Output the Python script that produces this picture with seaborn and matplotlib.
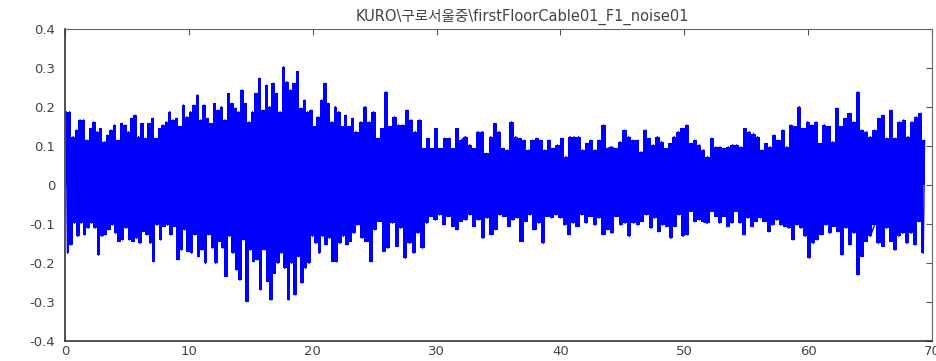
import matplotlib
matplotlib.use("Agg")
import matplotlib.pyplot as plt
import numpy as np
import pandas as pd
import seaborn as sns

# peak / trough readings of the waveform, three time segments each
upper_a = [0.188, 0.188, 0.124, 0.141, 0.167, 0.167, 0.115, 0.145, 0.162, 0.137,
           0.145, 0.111, 0.128, 0.141, 0.154, 0.115, 0.158, 0.154, 0.137, 0.171,
           0.179, 0.124, 0.158, 0.120, 0.158, 0.171, 0.120, 0.145, 0.154, 0.162,
           0.188, 0.167, 0.171, 0.150, 0.205, 0.175, 0.188, 0.205, 0.231, 0.167,
           0.205, 0.171, 0.158, 0.209, 0.192, 0.201, 0.167, 0.235, 0.209, 0.197,
           0.188, 0.244, 0.209, 0.162, 0.188, 0.235, 0.274, 0.192, 0.256, 0.201,
           0.261, 0.235, 0.188, 0.303, 0.265, 0.244, 0.261, 0.291, 0.197, 0.218,
           0.188, 0.192, 0.150, 0.175, 0.218, 0.261, 0.209, 0.162, 0.201, 0.188,
           0.150, 0.179, 0.150, 0.171, 0.137]
upper_b = [0.162, 0.201, 0.162, 0.188, 0.120, 0.145, 0.239, 0.150, 0.175, 0.154,
           0.154, 0.192, 0.167, 0.137, 0.167, 0.094, 0.120, 0.094, 0.145, 0.094,
           0.120, 0.120, 0.094, 0.145, 0.115, 0.124, 0.103, 0.094, 0.137, 0.137,
           0.081, 0.124, 0.158, 0.137, 0.094, 0.090, 0.162, 0.124, 0.120, 0.115,
           0.090, 0.115, 0.120, 0.115, 0.090, 0.115, 0.094, 0.103, 0.120, 0.073,
           0.124, 0.124, 0.124, 0.090, 0.107, 0.115, 0.090, 0.115, 0.154, 0.094,
           0.098, 0.094, 0.111, 0.141, 0.124, 0.115, 0.115, 0.085, 0.141, 0.120]
upper_c = [0.103, 0.124, 0.111, 0.094, 0.107, 0.124, 0.137, 0.145, 0.154, 0.107,
           0.115, 0.103, 0.090, 0.073, 0.120, 0.098, 0.098, 0.094, 0.098, 0.103,
           0.103, 0.098, 0.145, 0.137, 0.132, 0.124, 0.090, 0.107, 0.098, 0.128,
           0.115, 0.141, 0.098, 0.154, 0.150, 0.201, 0.145, 0.162, 0.154, 0.162,
           0.107, 0.154, 0.150, 0.111, 0.197, 0.150, 0.171, 0.184, 0.162, 0.239,
           0.141, 0.137, 0.124, 0.141, 0.171, 0.179, 0.120, 0.192, 0.120, 0.162,
           0.167, 0.124, 0.162, 0.175, 0.184, 0.115]

lower_a = [-0.175, -0.154, -0.098, -0.132, -0.098, -0.128, -0.111, -0.098, -0.111, -0.180,
           -0.132, -0.128, -0.115, -0.103, -0.124, -0.145, -0.141, -0.111, -0.141, -0.145,
           -0.137, -0.150, -0.120, -0.128, -0.150, -0.197, -0.103, -0.141, -0.107, -0.103,
           -0.128, -0.107, -0.192, -0.167, -0.115, -0.171, -0.175, -0.128, -0.184, -0.167,
           -0.201, -0.128, -0.162, -0.201, -0.145, -0.162, -0.235, -0.132, -0.175, -0.218,
           -0.244, -0.141, -0.299, -0.167, -0.197, -0.192, -0.269, -0.167, -0.248, -0.295,
           -0.227, -0.201, -0.175, -0.214, -0.295, -0.201, -0.282, -0.184, -0.252, -0.214,
           -0.201, -0.132, -0.150, -0.175, -0.132, -0.154, -0.137, -0.197, -0.197, -0.150,
           -0.132, -0.154, -0.145, -0.124, -0.103]
lower_b = [-0.137, -0.145, -0.197, -0.115, -0.094, -0.171, -0.162, -0.098, -0.158, -0.111,
           -0.188, -0.150, -0.175, -0.124, -0.162, -0.098, -0.081, -0.090, -0.077, -0.103,
           -0.081, -0.107, -0.115, -0.094, -0.090, -0.077, -0.107, -0.090, -0.137, -0.085,
           -0.128, -0.115, -0.077, -0.081, -0.107, -0.090, -0.085, -0.145, -0.094, -0.077,
           -0.115, -0.098, -0.150, -0.081, -0.085, -0.077, -0.085, -0.103, -0.128, -0.098,
           -0.107, -0.077, -0.098, -0.081, -0.103, -0.085, -0.128, -0.115, -0.124, -0.081,
           -0.103, -0.098, -0.132, -0.098, -0.103, -0.094, -0.077, -0.111]
lower_c = [-0.085, -0.120, -0.103, -0.107, -0.137, -0.107, -0.077, -0.132, -0.128, -0.068,
           -0.094, -0.090, -0.094, -0.098, -0.068, -0.081, -0.098, -0.081, -0.107, -0.098,
           -0.068, -0.098, -0.128, -0.085, -0.107, -0.094, -0.085, -0.094, -0.120, -0.103,
           -0.090, -0.103, -0.107, -0.111, -0.141, -0.103, -0.111, -0.132, -0.188, -0.150,
           -0.141, -0.128, -0.103, -0.124, -0.107, -0.120, -0.180, -0.111, -0.154, -0.124,
           -0.231, -0.184, -0.145, -0.132, -0.103, -0.150, -0.158, -0.111, -0.145, -0.167,
           -0.132, -0.124, -0.150, -0.124, -0.154, -0.094, -0.175]

# time span (s) covered by each segment
upper_spans = [(0.1, 23.5), (23.9, 47.2), (47.5, 69.4)]
lower_spans = [(0.2, 23.6), (24.0, 47.3), (47.6, 69.3)]

x_ticks = [0, 10, 20, 30, 40, 50, 60, 70]
y_ticks = [-0.4, -0.3, -0.2, -0.1, 0, 0.1, 0.2, 0.3, 0.4]
y_labels = ["-0.4", "-0.3", "-0.2", "-0.1", "0", "0.1", "0.2", "0.3", "0.4"]
title = r"KURO\구로서울중\firstFloorCable01_F1_noise01"


def build(spans, segs):
    parts = [pd.DataFrame({"t": np.linspace(t0, t1, len(v)), "amp": v})
             for (t0, t1), v in zip(spans, segs)]
    return pd.concat(parts, ignore_index=True)


up = build(upper_spans, [upper_a, upper_b, upper_c])
lo = build(lower_spans, [lower_a, lower_b, lower_c])
df = pd.concat([up, lo], ignore_index=True)

sns.set_style("white")
plt.rcParams["font.family"] = ["DejaVu Sans", "Noto Sans CJK KR"]
plt.rcParams["axes.unicode_minus"] = False

fig = plt.figure(figsize=(9.36, 3.61), dpi=100)
ax = fig.add_axes([0.0694, 0.0554, 0.9263, 0.8643])

blue = "#0000ff"
# dense body of the signal
ax.fill_between(up["t"], 0, up["amp"], step="mid", color=blue, linewidth=0)
ax.fill_between(lo["t"], lo["amp"], 0, step="mid", color=blue, linewidth=0)
sns.lineplot(data=df, x="t", y="amp", ax=ax, color=blue,
             linewidth=1.0, estimator=None, sort=True)

ax.set_xlim(0, 70)
ax.set_ylim(-0.4, 0.4)
ax.set_xticks(x_ticks)
ax.set_xticklabels([str(v) for v in x_ticks])
ax.set_yticks(y_ticks)
ax.set_yticklabels(y_labels)
ax.set_xlabel("")
ax.set_ylabel("")
ax.tick_params(direction="in", length=4, width=0.8, top=True, right=True,
               labelsize=9.5, labelcolor="#444444", color="#555555")
ax.tick_params(axis="y", pad=7)
ax.tick_params(axis="x", pad=3)
for side in ["left", "bottom"]:
    ax.spines[side].set_color("#333333")
    ax.spines[side].set_linewidth(1.2)
for side in ["top", "right"]:
    ax.spines[side].set_color("#666666")
    ax.spines[side].set_linewidth(0.8)

ax.set_title(title, fontsize=10.5, color="#444444", pad=6, x=0.527)

fig.savefig("out.png", dpi=100)
